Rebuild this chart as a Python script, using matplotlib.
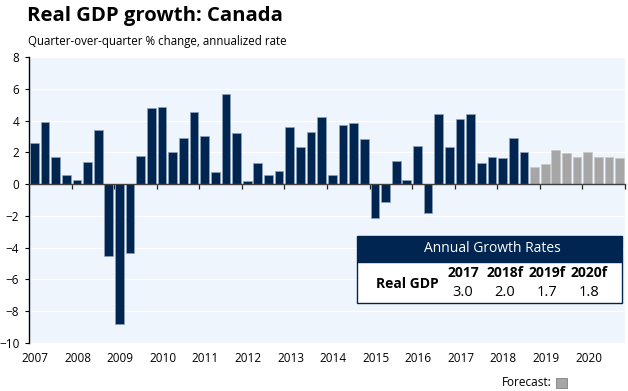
import matplotlib
matplotlib.use("Agg")
import matplotlib.pyplot as plt
import matplotlib.transforms as mtransforms
from matplotlib.patches import Rectangle

plt.rcParams['font.family'] = ['Open Sans', 'DejaVu Sans']

# ---- data ----
years = ["2007", "2008", "2009", "2010", "2011", "2012", "2013",
         "2014", "2015", "2016", "2017", "2018", "2019", "2020"]
actual = [2.6, 3.9, 1.7, 0.6, 0.25, 1.4, 3.4,
          -4.5, -8.8, -4.35, 1.8, 4.8, 4.85, 2.05,
          2.9, 4.55, 3.0, 0.75, 5.65, 3.2, 0.2,
          1.3, 0.55, 0.8, 3.6, 2.35, 3.3, 4.25,
          0.6, 3.75, 3.85, 2.85, -2.15, -1.1, 1.45,
          0.25, 2.4, -1.8, 4.4, 2.35, 4.1, 4.4,
          1.3, 1.7, 1.65, 2.9, 2.0]
forecast = [1.05, 1.25, 2.15, 1.95, 1.7, 2.0, 1.7, 1.7, 1.65]
table_years = ["2017", "2018f", "2019f", "2020f"]
table_values = ["3.0", "2.0", "1.7", "1.8"]
table_row = "Real GDP"

NAVY = "#002550"
GRAY = "#A6A6A6"
BG = "#EEF5FD"

fig = plt.figure(figsize=(6.28, 3.91), dpi=100)
ax = fig.add_axes([29/628, 1-343/391, (625-29)/628, (343-57)/391])
ax.set_facecolor(BG)

n_act = len(actual)
xa = list(range(n_act))
xf = list(range(n_act, n_act + len(forecast)))
ax.bar(xa, actual, width=0.82, color=NAVY, edgecolor="#8FA3B8", linewidth=0.5, zorder=3)
ax.bar(xf, forecast, width=0.82, color=GRAY, edgecolor="#C8C8C8", linewidth=0.5, zorder=3)

ntot = n_act + len(forecast)
ax.set_xlim(-0.5, ntot - 0.5)
ax.set_ylim(-10, 8)
ax.set_yticks(range(-10, 9, 2))
ax.tick_params(axis='y', direction='out', length=3, width=0.8, labelsize=8.5, pad=4, colors='black')
ax.yaxis.grid(True, color='white', linewidth=1.0, zorder=1)
ax.set_axisbelow(True)

for s in ['top', 'right']:
    ax.spines[s].set_visible(False)
ax.spines['left'].set_linewidth(1.0)
ax.spines['bottom'].set_position(('data', 0))
ax.spines['bottom'].set_color('#404040')
ax.spines['bottom'].set_linewidth(1.0)
ax.spines['bottom'].set_zorder(4)
ax.set_xticks([4*i - 0.5 for i in range(1, len(years) + 1)])
ax.tick_params(axis='x', direction='out', length=3.5, width=0.9, labelbottom=False, color='#202020')

trans = mtransforms.blended_transform_factory(ax.transData, fig.transFigure)
for i, y in enumerate(years):
    ax.text(4*i + 0.07, 1-358/391, y, transform=trans, ha='center', va='center', fontsize=8.5)

# title and subtitle
fig.text(27/628, 1-16/391, "Real GDP growth: Canada", fontsize=14.6, fontweight='bold', ha='left', va='center')
fig.text(28/628, 1-41/391, "Quarter-over-quarter % change, annualized rate", fontsize=8.3, ha='left', va='center')

# table
fig.patches.append(Rectangle((357/628, 1-262/391), (622-357)/628, (262-236)/391,
                             transform=fig.transFigure, facecolor=NAVY, edgecolor=NAVY, zorder=5))
fig.patches.append(Rectangle((357/628, 1-303/391), (622-357)/628, (303-262)/391,
                             transform=fig.transFigure, facecolor='white', edgecolor=NAVY, linewidth=1.0, zorder=5))
fig.text(492/628, 1-249/391, "Annual Growth Rates", color='white', fontsize=10, ha='center', va='center', zorder=6)
fig.text(407/628, 1-284/391, table_row, fontsize=10, fontweight='bold', ha='center', va='center', zorder=6)
cols = [463, 505, 547, 589]
for cx, ty, tv in zip(cols, table_years, table_values):
    fig.text(cx/628, 1-273/391, ty, fontsize=10, fontweight='bold', ha='center', va='center', zorder=6)
    fig.text(cx/628, 1-292/391, tv, fontsize=10.5, ha='center', va='center', zorder=6)

# forecast legend
fig.text(552/628, 1-383/391, "Forecast:", fontsize=8.5, ha='right', va='center')
fig.patches.append(Rectangle((556/628, 1-388/391), 11/628, 10/391, transform=fig.transFigure,
                             facecolor=GRAY, edgecolor='#808080', linewidth=0.6))

fig.savefig("out.png", dpi=100)
